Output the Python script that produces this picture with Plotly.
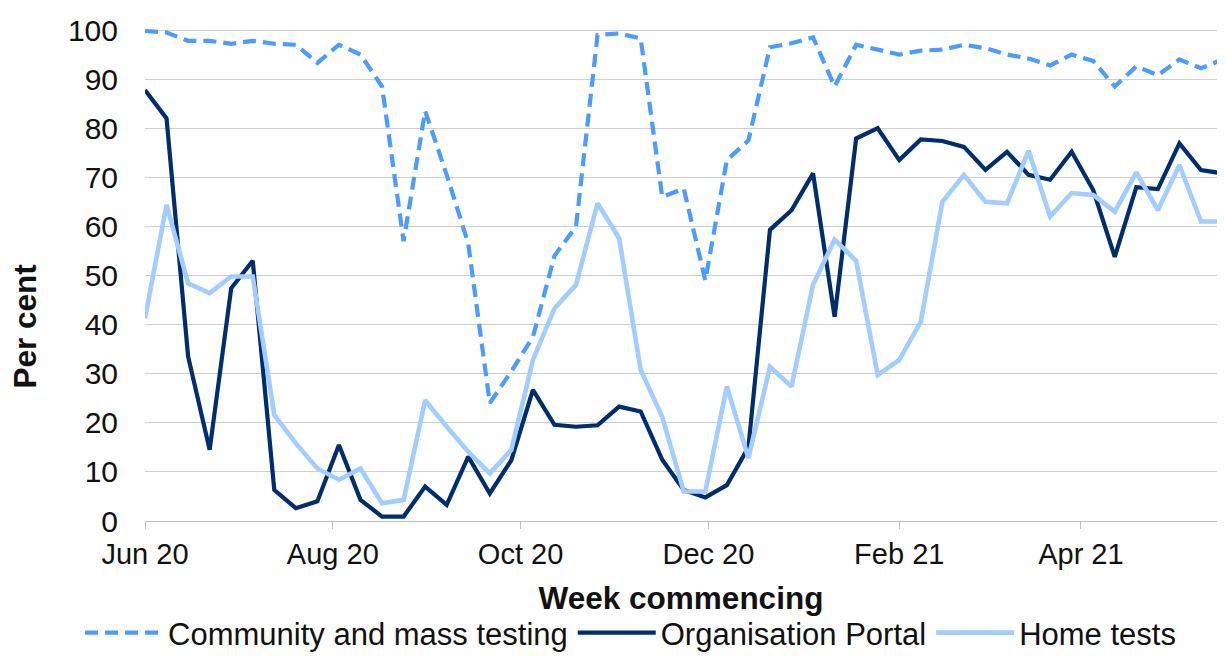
import pandas as pd
import plotly.graph_objects as go

weeks = pd.date_range("2020-06-01", periods=51, freq="7D")

community = [99.8, 99.5, 97.8, 97.8, 97.2, 97.8, 97.2, 97.0, 93.3, 97.0,
             95.0, 88.5, 57.0, 83.5, 70.5, 56.5, 24.0, 30.5, 37.5, 54.0,
             60.0, 99.0, 99.3, 98.3, 66.0, 67.7, 49.0, 73.5, 77.5, 96.5,
             97.3, 98.5, 88.5, 97.0, 96.0, 95.0, 95.8, 96.0, 97.0, 96.3,
             95.0, 94.2, 92.8, 95.0, 93.7, 88.5, 92.6, 90.8, 94.0, 92.2, 94.0]

portal = [87.8, 82.0, 33.5, 14.5, 47.4, 53.0, 6.3, 2.6, 4.0, 15.5,
          4.3, 0.9, 0.9, 7.0, 3.3, 13.1, 5.6, 12.4, 26.7, 19.6,
          19.2, 19.5, 23.3, 22.3, 12.5, 6.3, 4.8, 7.3, 15.0, 59.3,
          63.3, 70.8, 41.6, 77.9, 80.0, 73.5, 77.7, 77.4, 76.2, 71.5,
          75.2, 70.5, 69.5, 75.2, 67.4, 53.8, 68.0, 67.6, 76.9, 71.5, 70.8]

home = [41.3, 64.4, 48.4, 46.4, 49.8, 49.8, 21.6, 15.8, 10.7, 8.4,
        10.7, 3.6, 4.3, 24.6, 19.2, 14.1, 9.7, 14.5, 32.8, 43.3,
        48.1, 64.7, 57.6, 30.8, 21.2, 6.0, 6.0, 27.4, 12.8, 31.4,
        27.4, 48.1, 57.3, 53.0, 29.7, 32.8, 40.6, 65.0, 70.5, 65.0,
        64.7, 75.4, 62.0, 66.8, 66.4, 63.0, 71.0, 63.3, 72.5, 61.0, 61.0]

tick_vals = ["2020-06-01", "2020-08-01", "2020-10-01", "2020-12-01", "2021-02-01", "2021-04-01"]
tick_text = ["Jun 20", "Aug 20", "Oct 20", "Dec 20", "Feb 21", "Apr 21"]

FONT = "Liberation Sans, Arial, sans-serif"
TXT = "#111111"

fig = go.Figure()
fig.add_trace(go.Scatter(x=weeks, y=community, mode="lines", name="Community and mass testing",
                         line=dict(color="#4c9bff", width=4.2, dash="13px,7px")))
fig.add_trace(go.Scatter(x=weeks, y=portal, mode="lines", name="Organisation Portal",
                         line=dict(color="#002d6b", width=4.2)))
fig.add_trace(go.Scatter(x=weeks, y=home, mode="lines", name="Home tests",
                         line=dict(color="#a3ccff", width=4.6)))

fig.update_layout(
    width=1209, height=653,
    margin=dict(l=137, r=0, t=12, b=140, autoexpand=False),
    plot_bgcolor="white", paper_bgcolor="white",
    font=dict(family=FONT, color=TXT, size=29),
    showlegend=True,
    legend=dict(orientation="h", x=-0.0606, xanchor="left",
                y=-0.2774, yanchor="bottom",
                font=dict(size=31, color=TXT), itemwidth=78, tracegroupgap=0),
    xaxis=dict(
        type="date", automargin=False,
        range=["2020-06-01", "2021-05-15 05:00"],
        tickvals=tick_vals, ticktext=tick_text, tickangle=0,
        ticks="outside", ticklen=7, tickcolor="#c0c0c0", tickwidth=1,
        showline=True, linecolor="#c0c0c0", linewidth=1,
        showgrid=False, zeroline=False,
        tickfont=dict(size=29, color=TXT),
        title=dict(text="<b>Week commencing</b>", font=dict(size=31.5, color=TXT), standoff=18),
    ),
    yaxis=dict(
        automargin=False,
        range=[0, 102.04],
        tickvals=[0, 10, 20, 30, 40, 50, 60, 70, 80, 90, 100],
        showgrid=True, gridcolor="#cfcfcf", gridwidth=1.3,
        zeroline=False, showline=False,
        ticks="", ticklabelstandoff=26,
        tickfont=dict(size=30, color=TXT),
    ),
    annotations=[dict(text="<b>Per cent</b>", xref="paper", yref="paper",
                      x=-0.112, y=0.39, textangle=-90, showarrow=False,
                      xanchor="center", yanchor="middle",
                      font=dict(size=31.5, color=TXT, family=FONT))],
)

fig.write_html("out.html")
